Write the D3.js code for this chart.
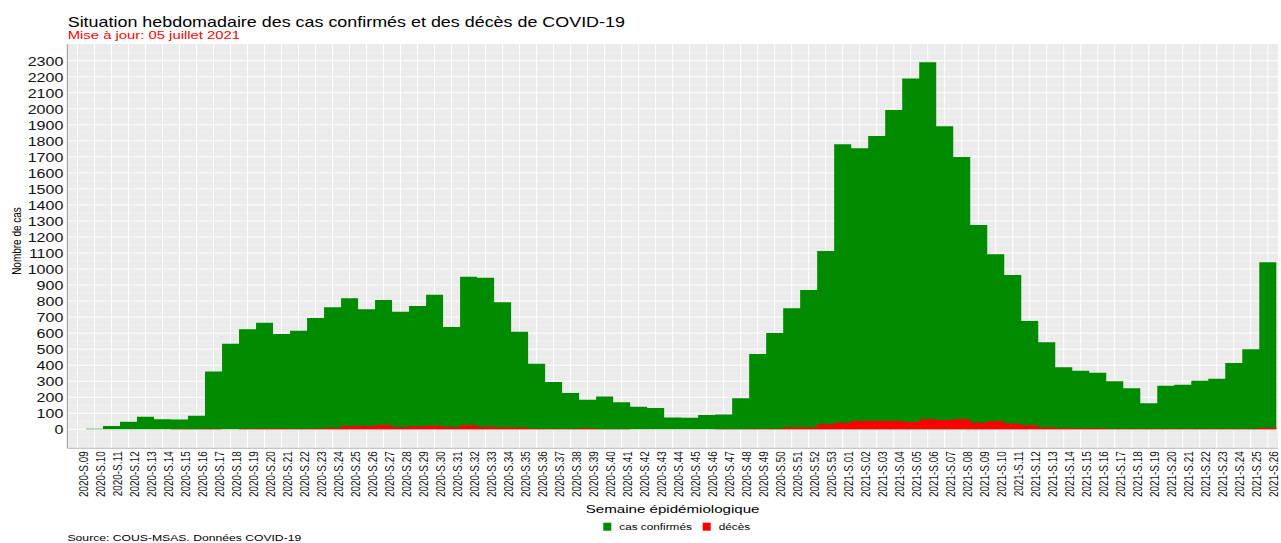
<!DOCTYPE html>
<html>
<head>
<meta charset="utf-8">
<script src="https://cdn.jsdelivr.net/npm/d3@7"></script>
<style>
    body { margin: 0; background: #fff; }
    text { font-family: "Liberation Sans", Arial, sans-serif; }
</style>
</head>
<body>
<div id="chart"></div>
<script>
const weeks = [
    "2020-S.09", "2020-S.10", "2020-S.11", "2020-S.12", "2020-S.13", "2020-S.14", "2020-S.15",
    "2020-S.16", "2020-S.17", "2020-S.18", "2020-S.19", "2020-S.20", "2020-S.21", "2020-S.22",
    "2020-S.23", "2020-S.24", "2020-S.25", "2020-S.26", "2020-S.27", "2020-S.28", "2020-S.29",
    "2020-S.30", "2020-S.31", "2020-S.32", "2020-S.33", "2020-S.34", "2020-S.35", "2020-S.36",
    "2020-S.37", "2020-S.38", "2020-S.39", "2020-S.40", "2020-S.41", "2020-S.42", "2020-S.43",
    "2020-S.44", "2020-S.45", "2020-S.46", "2020-S.47", "2020-S.48", "2020-S.49", "2020-S.50",
    "2020-S.51", "2020-S.52", "2020-S.53",
    "2021-S.01", "2021-S.02", "2021-S.03", "2021-S.04", "2021-S.05", "2021-S.06", "2021-S.07",
    "2021-S.08", "2021-S.09", "2021-S.10", "2021-S.11", "2021-S.12", "2021-S.13", "2021-S.14",
    "2021-S.15", "2021-S.16", "2021-S.17", "2021-S.18", "2021-S.19", "2021-S.20", "2021-S.21",
    "2021-S.22", "2021-S.23", "2021-S.24", "2021-S.25", "2021-S.26"
];

const cases = [
    0, 3, 20, 47, 79, 63, 61, 85, 360, 534, 624, 665, 595, 615, 694, 761, 817, 749, 807, 734,
    769, 840, 638, 951, 946, 792, 609, 409, 295, 226, 185, 204, 168, 141, 133, 73, 72, 89, 93,
    193, 470, 601, 755, 869, 1113,
    1778, 1753, 1830, 1992, 2188, 2290, 1891, 1699, 1275, 1092, 963, 676, 543, 387, 366, 353,
    299, 256, 162, 272, 278, 303, 316, 414, 499, 1042
];

const deaths = [
    0, 0, 0, 0, 0, 1, 2, 2, 3, 1, 4, 5, 5, 4, 5, 10, 20, 20, 27, 14, 19, 22, 14, 25, 16, 12,
    11, 5, 4, 4, 6, 2, 2, 1, 1, 1, 1, 1, 2, 2, 4, 4, 12, 12, 31,
    41, 52, 52, 52, 45, 62, 58, 62, 41, 50, 35, 25, 12, 8, 6, 6, 3, 3, 3, 3, 3, 4, 4, 3, 3, 9
];

const yTicks = d3.range(0, 2301, 100);
const series = [
    { name: "cas confirmés", values: cases, color: "#008B00" },
    { name: "décès", values: deaths, color: "#FF0000" }
];

const width = 1281;
const height = 543;
const panel = { left: 67.3, right: 1278, top: 44, bottom: 448.3 };
const sx = 1.28; // the original picture is stretched sideways

const svg = d3
    .select("#chart")
    .append("svg")
    .attr("width", width)
    .attr("height", height);

const xScale = d3
    .scaleBand()
    .domain(weeks)
    .range([panel.left, panel.right])
    .paddingInner(0)
    .paddingOuter(0.1);

const yScale = d3
    .scaleLinear()
    .domain([-118.6, 2404])
    .range([panel.bottom, panel.top]);

// panel
svg.append("rect")
    .attr("x", panel.left)
    .attr("y", panel.top)
    .attr("width", panel.right - panel.left)
    .attr("height", panel.bottom - panel.top)
    .attr("fill", "#EBEBEB");

const grid = svg.append("g");

grid.selectAll(".minor")
    .data(d3.range(-50, 2400, 100))
    .enter()
    .append("line")
    .attr("x1", panel.left)
    .attr("x2", panel.right)
    .attr("y1", d => yScale(d))
    .attr("y2", d => yScale(d))
    .attr("stroke", "#F5F5F5")
    .attr("stroke-width", 0.6);

grid.selectAll(".major")
    .data(yTicks)
    .enter()
    .append("line")
    .attr("x1", panel.left)
    .attr("x2", panel.right)
    .attr("y1", d => yScale(d))
    .attr("y2", d => yScale(d))
    .attr("stroke", "#fff")
    .attr("stroke-width", 1);

grid.selectAll(".vert")
    .data(weeks)
    .enter()
    .append("line")
    .attr("x1", d => xScale(d) + xScale.bandwidth() / 2)
    .attr("x2", d => xScale(d) + xScale.bandwidth() / 2)
    .attr("y1", panel.top)
    .attr("y2", panel.bottom)
    .attr("stroke", "#fff")
    .attr("stroke-width", 1);

// step areas, one flat segment per week
const area = d3
    .area()
    .x(d => d[0])
    .y0(yScale(0))
    .y1(d => yScale(d[1]));

series.forEach(s => {
    const pts = [];
    weeks.forEach((w, i) => {
        pts.push([xScale(w), s.values[i]]);
        pts.push([xScale(w) + xScale.bandwidth(), s.values[i]]);
    });
    svg.append("path")
        .datum(pts)
        .attr("d", area)
        .attr("fill", s.color);
});

// axis lines
svg.append("line")
    .attr("x1", panel.left)
    .attr("x2", panel.left)
    .attr("y1", panel.top)
    .attr("y2", panel.bottom)
    .attr("stroke", "#999")
    .attr("stroke-width", 1);

svg.append("line")
    .attr("x1", panel.left)
    .attr("x2", panel.right)
    .attr("y1", panel.bottom)
    .attr("y2", panel.bottom)
    .attr("stroke", "#bbb")
    .attr("stroke-width", 1);

// y axis
const yAxis = d3
    .axisLeft(yScale)
    .tickValues(yTicks)
    .tickFormat(d3.format("d"))
    .tickSize(0);

svg.append("g")
    .attr("transform", `translate(${panel.left}, 0)`)
    .call(yAxis)
    .call(g => g.select(".domain").remove())
    .selectAll("text")
    .attr("x", 0)
    .attr("dy", "0.36em")
    .attr("transform", `translate(-4, 0) scale(${sx}, 1)`)
    .attr("fill", "#111")
    .style("font-size", "12.5px");

// x axis
const xAxis = d3.axisBottom(xScale).tickSize(0);

svg.append("g")
    .attr("transform", `translate(0, ${panel.bottom})`)
    .call(xAxis)
    .call(g => g.select(".domain").remove())
    .selectAll("text")
    .attr("x", 0)
    .attr("y", 0)
    .attr("dy", "0.35em")
    .attr("text-anchor", "end")
    .attr("transform", `translate(6, 3) scale(1.3, 1) rotate(-90)`)
    .attr("fill", "#111")
    .style("font-size", "9.9px");

// titles
function label(text, x, y, size, color, anchor = "start", rotate = 0) {
    return svg.append("text")
        .attr("transform", `translate(${x}, ${y}) scale(${sx}, 1) rotate(${rotate})`)
        .attr("text-anchor", anchor)
        .attr("fill", color)
        .style("font-size", size + "px")
        .text(text);
}

label("Situation hebdomadaire des cas confirmés et des décès de COVID-19", 67.7, 26.7, 14, "#000");
label("Mise à jour: 05 juillet 2021", 67.7, 39, 11.6, "#FF0000");
label("Nombre de cas", 21, 241, 10, "#000", "middle", -90);
label("Semaine épidémiologique", (panel.left + panel.right) / 2, 513, 11.8, "#000", "middle");
label("Source: COUS-MSAS. Données COVID-19", 67.5, 541, 9.5, "#000");

// legend
const legendX = [603.3, 702.7];
series.forEach((s, i) => {
    svg.append("rect")
        .attr("x", legendX[i])
        .attr("y", 522.7)
        .attr("width", 8)
        .attr("height", 8)
        .attr("fill", s.color);
    label(s.name, legendX[i] + 16, 530, 9.2, "#000");
});
</script>
</body>
</html>
